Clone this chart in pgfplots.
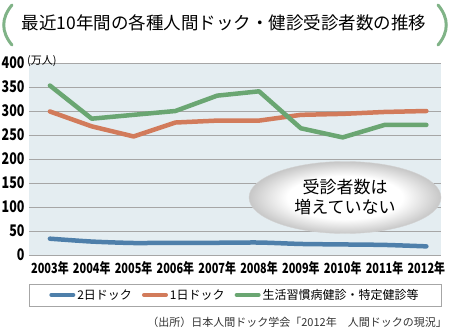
\documentclass[border=0pt]{standalone}
\usepackage{pgfplots}
\pgfplotsset{compat=1.18}
\usepackage{fontspec}
\newfontfamily\jp{Noto Sans CJK JP}
\newfontfamily\jpc[FakeStretch=0.78]{Noto Sans CJK JP}
\definecolor{cblue}{HTML}{4E7FAA}
\definecolor{corange}{HTML}{D27B5B}
\definecolor{cgreen}{HTML}{6AA672}
\definecolor{cbg}{HTML}{E4EDF1}
\definecolor{cgrid}{HTML}{A6A6A6}
\pgfdeclareradialshading{ell}{\pgfpoint{0bp}{0bp}}{color(0bp)=(white); color(15bp)=(white); color(25bp)=(black!22); color(50bp)=(black!22)}
\begin{document}
\begin{tikzpicture}
\useasboundingbox (0,0) rectangle (450pt,333pt);
\begin{axis}[
  at={(29pt,78pt)}, anchor=south west,
  width=412pt, height=192pt, scale only axis,
  xmin=2002.5, xmax=2012.35, ymin=0, ymax=400,
  axis background/.style={fill=cbg},
  axis line style={draw=none},
  major tick length=0pt,
  ymajorgrids, major grid style={cgrid, line width=0.8pt},
  ytick={0,50,100,150,200,250,300,350,400},
  yticklabels={0,50,100,150,200,250,300,350,400},
  yticklabel style={font=\jpc\bfseries\fontsize{16}{16}\selectfont, xshift=-1pt},
  xtick={2003,2004,2005,2006,2007,2008,2009,2010,2011,2012},
  xticklabels={2003年,2004年,2005年,2006年,2007年,2008年,2009年,2010年,2011年,2012年},
  xticklabel style={font=\jpc\bfseries\fontsize{14}{14}\selectfont, yshift=-3pt},
  legend columns=3,
  legend style={draw=none, fill=none, at={(0.5,-0.208)}, anchor=center,
    font=\jp\fontsize{12}{14}\selectfont,
    /tikz/every even column/.append style={column sep=8pt}},
  legend image code/.code={\draw[#1, line cap=round, line width=4pt] (0pt,0pt) -- (22pt,0pt);},
]
\addplot[cblue, line width=4.5pt, line cap=round, smooth, tension=0.4] coordinates {
(2003,34) (2004,28) (2005,25) (2006,25.5) (2007,25.5) (2008,26) (2009,23) (2010,22) (2011,21) (2012,18)};
\addlegendentry{2日ドック}
\addplot[corange, line width=4.5pt, line cap=round, line join=round] coordinates {
(2003,299) (2004,268) (2005,247) (2006,276) (2007,280) (2008,280) (2009,292) (2010,294) (2011,298) (2012,300)};
\addlegendentry{1日ドック}
\addplot[cgreen, line width=4.5pt, line cap=round, line join=round] coordinates {
(2003,353) (2004,284) (2005,292) (2006,300) (2007,332) (2008,341) (2009,264) (2010,245) (2011,271) (2012,271)};
\addlegendentry{生活習慣病健診・特定健診等}
\end{axis}
% ellipse callout
\shade[shading=ell] (345pt,135.5pt) ellipse [x radius=96pt, y radius=36pt];
\draw[gray!35, line width=0.4pt] (345pt,135.5pt) ellipse [x radius=96pt, y radius=36pt];
\node[font=\jp\fontsize{17}{20}\selectfont, align=center] at (345pt,136pt) {受診者数は\\増えていない};
% title
\node[font=\jp\fontsize{17.5}{17.5}\selectfont, anchor=center] at (224pt,310pt) {最近10年間の各種人間ドック・健診受診者数の推移};
\draw[cgreen!85, line width=3pt, line cap=round] (12pt,328pt) .. controls (1pt,315pt) and (1pt,301pt) .. (12pt,288pt);
\draw[cgreen!85, line width=3pt, line cap=round] (438pt,328pt) .. controls (449pt,315pt) and (449pt,301pt) .. (438pt,288pt);
% unit
\node[font=\jp\fontsize{11}{11}\selectfont, anchor=west, inner sep=0pt] at (27pt,272pt) {(万人)};
% legend box
\draw[gray!70, line width=0.6pt] (29pt,27pt) rectangle (441pt,49pt);
% source
\node[font=\jp\fontsize{11}{11}\selectfont, anchor=east, inner sep=0pt, text=black!80] at (447pt,11pt) {（出所）日本人間ドック学会「2012年　人間ドックの現況」};
\end{tikzpicture}
\end{document}
